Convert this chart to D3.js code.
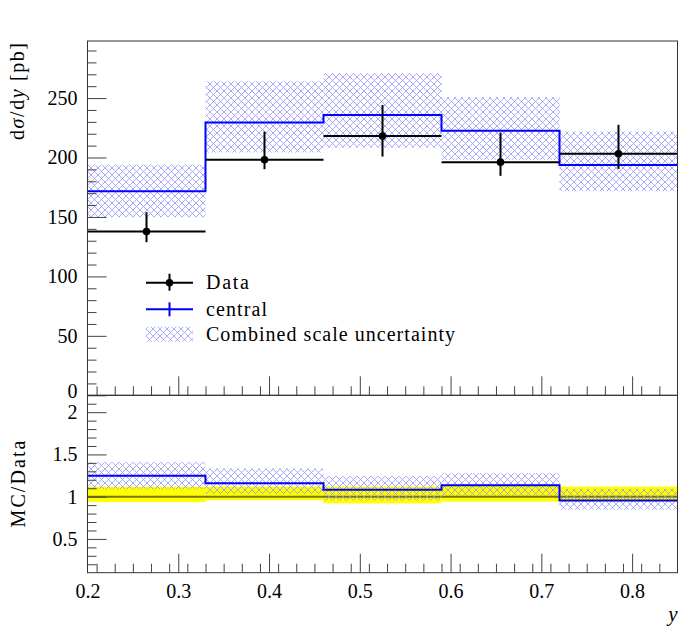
<!DOCTYPE html>
<html>
<head>
<meta charset="utf-8">
<script src="https://cdn.jsdelivr.net/npm/d3@7"></script>
<style>
body{margin:0;background:#fff;}
text{font-family:'Liberation Serif','Times New Roman',serif;fill:#000;}
</style>
</head>
<body>
<div id="chart"></div>
<script>
// bin edges in y
let edges = [0.2, 0.33, 0.46, 0.59, 0.72, 0.85];
// measured data with (asymmetric) error bar ends
let dataVal  = [137.7, 198.1, 218.0, 196.1, 203.1];
let dataUp   = [154.0, 221.8, 244.2, 221.0, 227.5];
let dataDown = [128.8, 190.2, 200.8, 184.6, 190.4];
// MC central prediction and combined scale uncertainty band
let central  = [171.6, 229.5, 235.7, 222.5, 193.6];
let bandUp   = [193.9, 264.0, 271.0, 250.8, 221.9];
let bandDown = [149.8, 204.2, 208.4, 198.0, 171.7];

let yMajor = [0, 50, 100, 150, 200, 250],
rMajor = [0.5, 1, 1.5, 2],
xMajor = [0.2, 0.3, 0.4, 0.5, 0.6, 0.7, 0.8];

let legendItems = ['Data', 'central', 'Combined scale uncertainty'],
legendWidths = [43, 61, 249];

let width = 700, height = 632,
left = 87.5, right = 677.5,
topY = 41, midY = 395.3, botY = 572.7,
hatchColor = '#9494ff';

let svg = d3.select('#chart').append('svg').attr('width', width).attr('height', height);

let x = d3.scaleLinear().domain([0.2, 0.85]).range([left, right]),
y = d3.scaleLinear().domain([0, 298]).range([midY, topY]),
yr = d3.scaleLinear().domain([0.1, 2.2]).range([botY, midY]);

let bins = d3.range(edges.length - 1).map(i=>({
	x0: edges[i], x1: edges[i+1], xc: (edges[i] + edges[i+1]) / 2,
	v: dataVal[i], up: dataUp[i], dn: dataDown[i],
	c: central[i], bu: bandUp[i], bd: bandDown[i]
}));

//cross hatch pattern
let defs = svg.append('defs'),
hp = 7;
let pat = defs.append('pattern').attr('id', 'hatch')
	.attr('patternUnits', 'userSpaceOnUse')
	.attr('width', hp).attr('height', hp);
pat.append('path')
	.attr('d', `M0,0L${hp},${hp}M${hp},0L0,${hp}M-1,${hp-1}L1,${hp+1}M${hp-1},-1L${hp+1},1M-1,1L1,-1M${hp-1},${hp+1}L${hp+1},${hp-1}`)
	.style('stroke', hatchColor).style('stroke-width', 0.8).style('fill', 'none');

let stepLine = d3.line();
function stepPoints(vals){
	let pts = [];
	bins.forEach(b=>{ pts.push([x(b.x0), vals(b)]); pts.push([x(b.x1), vals(b)]); });
	return pts;
}

//---------- top panel ----------
let gTop = svg.append('g');

gTop.selectAll('.band').data(bins).enter().append('rect')
	.attr('x', d=>x(d.x0)).attr('width', d=>x(d.x1) - x(d.x0))
	.attr('y', d=>y(d.bu)).attr('height', d=>y(d.bd) - y(d.bu))
	.style('fill', 'url(#hatch)');

gTop.append('path')
	.attr('d', stepLine(stepPoints(b=>y(b.c))))
	.style('fill', 'none').style('stroke', '#0000ff').style('stroke-width', 2);

gTop.selectAll('.dataH').data(bins).enter().append('line')
	.attr('x1', d=>x(d.x0)).attr('x2', d=>x(d.x1))
	.attr('y1', d=>y(d.v)).attr('y2', d=>y(d.v))
	.style('stroke', '#000').style('stroke-width', 2);

gTop.selectAll('.dataV').data(bins).enter().append('line')
	.attr('x1', d=>x(d.xc)).attr('x2', d=>x(d.xc))
	.attr('y1', d=>y(d.up)).attr('y2', d=>y(d.dn))
	.style('stroke', '#000').style('stroke-width', 2);

gTop.selectAll('.dataP').data(bins).enter().append('circle')
	.attr('cx', d=>x(d.xc)).attr('cy', d=>y(d.v)).attr('r', 3.8)
	.style('fill', '#000');

//legend
let lg = svg.append('g').attr('transform', 'translate(146,0)'),
legendY = [282.7, 309.3, 334.2];
lg.append('line').attr('x1', 0).attr('x2', 47).attr('y1', legendY[0]).attr('y2', legendY[0])
	.style('stroke', '#000').style('stroke-width', 2);
lg.append('line').attr('x1', 23.5).attr('x2', 23.5).attr('y1', legendY[0] - 9).attr('y2', legendY[0] + 8)
	.style('stroke', '#000').style('stroke-width', 2);
lg.append('circle').attr('cx', 23.5).attr('cy', legendY[0]).attr('r', 3.8).style('fill', '#000');
lg.append('line').attr('x1', 0).attr('x2', 47).attr('y1', legendY[1]).attr('y2', legendY[1])
	.style('stroke', '#0000ff').style('stroke-width', 2);
lg.append('line').attr('x1', 23.5).attr('x2', 23.5).attr('y1', legendY[1] - 7).attr('y2', legendY[1] + 7)
	.style('stroke', '#0000ff').style('stroke-width', 2);
lg.append('rect').attr('x', 0).attr('y', legendY[2] - 7.5).attr('width', 47).attr('height', 15)
	.style('fill', 'url(#hatch)');
lg.selectAll('.legtext').data(legendItems).enter().append('text')
	.attr('x', 60).attr('y', (d, i)=>legendY[i] + 6.5)
	.attr('textLength', (d, i)=>legendWidths[i])
	.attr('lengthAdjust', 'spacing')
	.style('font-size', '20px')
	.text(d=>d);

//---------- ratio panel ----------
let gBot = svg.append('g');

gBot.selectAll('.dataBand').data(bins).enter().append('rect')
	.attr('x', d=>x(d.x0)).attr('width', d=>x(d.x1) - x(d.x0))
	.attr('y', d=>yr(d.up / d.v)).attr('height', d=>yr(d.dn / d.v) - yr(d.up / d.v))
	.style('fill', '#ffff00');

gBot.append('line')
	.attr('x1', left).attr('x2', right).attr('y1', yr(1)).attr('y2', yr(1))
	.style('stroke', '#7a7a00').style('stroke-width', 2);

gBot.selectAll('.rband').data(bins).enter().append('rect')
	.attr('x', d=>x(d.x0)).attr('width', d=>x(d.x1) - x(d.x0))
	.attr('y', d=>yr(d.bu / d.v)).attr('height', d=>yr(d.bd / d.v) - yr(d.bu / d.v))
	.style('fill', 'url(#hatch)');

gBot.append('path')
	.attr('d', stepLine(stepPoints(b=>yr(b.c / b.v))))
	.style('fill', 'none').style('stroke', '#0000ff').style('stroke-width', 2);

//---------- axes ----------
let tickColor = '#444';
function styleAxis(g){
	g.select('.domain').remove();
	g.selectAll('line').style('stroke', tickColor);
	g.selectAll('text').style('font-size', '20px').style('font-family', "'Liberation Serif',serif");
}
function isMajor(v, majors){ return majors.some(m=>Math.abs(m - v) < 1e-6); }

let yMinor = d3.range(10, 298, 10).filter(v=>!isMajor(v, yMajor)),
rMinor = d3.range(2, 22).map(v=>v / 10).filter(v=>!isMajor(v, rMajor)),
xMinor = d3.range(21, 85, 2).map(v=>v / 100).filter(v=>!isMajor(v, xMajor));

// left axes (inward ticks)
svg.append('g').attr('transform', `translate(${left},0)`)
	.call(d3.axisRight(y).tickValues(yMajor).tickSize(19).tickFormat('')).call(styleAxis);
svg.append('g').attr('transform', `translate(${left},0)`)
	.call(d3.axisRight(y).tickValues(yMinor).tickSize(9).tickFormat('')).call(styleAxis);
let yLab = svg.append('g').attr('transform', `translate(${left},0)`)
	.call(d3.axisLeft(y).tickValues(yMajor).tickSize(0).tickPadding(10)).call(styleAxis);
// lift the "0" a little so it clears the ratio panel's "2"
yLab.selectAll('.tick').filter(d=>d === 0).select('text').attr('dy', '0.12em');

svg.append('g').attr('transform', `translate(${left},0)`)
	.call(d3.axisRight(yr).tickValues(rMajor).tickSize(19).tickFormat('')).call(styleAxis);
svg.append('g').attr('transform', `translate(${left},0)`)
	.call(d3.axisRight(yr).tickValues(rMinor).tickSize(9).tickFormat('')).call(styleAxis);
svg.append('g').attr('transform', `translate(${left},0)`)
	.call(d3.axisLeft(yr).tickValues(rMajor).tickSize(0).tickPadding(10).tickFormat(d=>String(d))).call(styleAxis);

// x ticks for both panels
[midY, botY].forEach(py=>{
	svg.append('g').attr('transform', `translate(0,${py})`)
		.call(d3.axisTop(x).tickValues(xMajor.slice(1)).tickSize(19).tickFormat('')).call(styleAxis);
	svg.append('g').attr('transform', `translate(0,${py})`)
		.call(d3.axisTop(x).tickValues(xMinor).tickSize(9).tickFormat('')).call(styleAxis);
});
svg.append('g').attr('transform', `translate(0,${botY})`)
	.call(d3.axisBottom(x).tickValues(xMajor).tickSize(0).tickPadding(11).tickFormat(d=>String(d))).call(styleAxis);

// frames
[[topY, midY], [midY, botY]].forEach(p=>{
	svg.append('rect').attr('x', left).attr('y', p[0])
		.attr('width', right - left).attr('height', p[1] - p[0])
		.style('fill', 'none').style('stroke', '#333').style('stroke-width', 1);
});

// axis titles
let t1 = svg.append('text')
	.attr('transform', 'translate(24,43) rotate(-90)')
	.attr('text-anchor', 'end')
	.attr('textLength', 97).attr('lengthAdjust', 'spacing')
	.style('font-size', '20px');
t1.append('tspan').text('d');
t1.append('tspan').style('font-style', 'italic').text('σ');
t1.append('tspan').text('/d');
t1.append('tspan').style('font-style', 'italic').text('y');
t1.append('tspan').text(' [pb]');

svg.append('text')
	.attr('transform', `translate(25,${(midY + botY) / 2}) rotate(-90)`)
	.attr('text-anchor', 'middle')
	.attr('textLength', 87).attr('lengthAdjust', 'spacing')
	.style('font-size', '20px')
	.text('MC/Data');

svg.append('text')
	.attr('x', right).attr('y', 621)
	.attr('text-anchor', 'end')
	.style('font-size', '21px').style('font-style', 'italic')
	.text('y');
</script>
</body>
</html>
